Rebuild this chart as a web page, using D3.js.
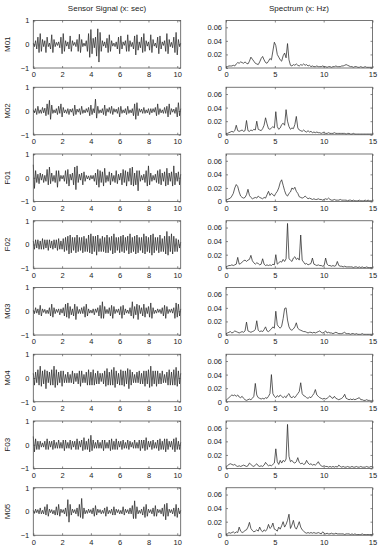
<!DOCTYPE html>
<html>
<head>
<meta charset="utf-8">
<script src="https://cdn.jsdelivr.net/npm/d3@7"></script>
<style>
  body { margin: 0; background: #fff; }
  text { font-family: "Liberation Sans", Arial, sans-serif; fill: #222; }
</style>
</head>
<body>
<script>
// subjects, top to bottom
var subjects = ["M01", "M02", "F01", "F02", "M03", "M04", "F03", "M05"];

// sensor signal, one sample every 0.08 s (0 .. 10.24 s)
var dt = 0.08;
var signals = [
  [0.05,-0.1,0.15,-0.2,0.3,-0.35,0.45,-0.3,0.2,-0.1,
   0.15,-0.35,0.3,-0.1,0.05,-0.2,0.4,-0.35,0.2,-0.1,
   0.08,-0.05,0.1,-0.15,0.3,-0.4,0.45,-0.3,0.15,-0.08,
   0.1,-0.2,0.35,-0.3,0.15,-0.05,0.08,-0.1,0.2,-0.3,
   0.42,-0.35,0.2,-0.1,0.05,-0.08,0.15,-0.3,0.45,-0.55,
   0.62,-0.4,0.25,-0.15,0.3,-0.5,0.65,-0.75,0.5,-0.3,
   0.15,-0.08,0.1,-0.15,0.25,-0.35,0.4,-0.3,0.15,-0.08,
   0.05,-0.1,0.1,-0.2,0.3,-0.4,0.35,-0.2,0.1,-0.05,
   0.15,-0.3,0.4,-0.3,0.15,-0.1,0.08,-0.2,0.35,-0.45,
   0.4,-0.25,0.1,-0.15,0.3,-0.35,0.45,-0.3,0.15,-0.08,
   0.1,-0.25,0.4,-0.35,0.2,-0.08,0.05,-0.15,0.3,-0.4,
   0.35,-0.2,0.1,-0.05,0.15,-0.3,0.45,-0.4,0.2,-0.1,
   0.08,-0.15,0.3,-0.35,0.5,-0.45,0.2,-0.1,0.05],
  [0.05,-0.08,0.1,-0.15,0.2,-0.1,0.05,-0.1,0.15,-0.08,
   0.12,-0.2,0.3,-0.15,0.45,-0.35,0.25,-0.1,0.05,-0.08,
   0.1,-0.15,0.2,-0.1,0.3,-0.25,0.15,-0.08,0.05,-0.1,
   0.1,-0.15,0.08,-0.05,0.1,-0.2,0.25,-0.15,0.08,-0.05,
   0.1,-0.15,0.2,-0.1,0.05,-0.08,0.1,-0.05,0.15,-0.2,
   0.25,-0.15,0.1,-0.08,0.5,-0.3,0.2,-0.1,0.05,-0.08,
   0.1,-0.15,0.25,-0.2,0.1,-0.05,0.15,-0.1,0.2,-0.15,
   0.1,-0.05,0.08,-0.1,0.15,-0.25,0.2,-0.1,0.05,-0.08,
   0.1,-0.15,0.2,-0.1,0.05,-0.08,0.1,-0.2,0.3,-0.35,
   0.35,-0.2,0.1,-0.05,0.08,-0.1,0.15,-0.1,0.05,-0.08,
   0.1,-0.15,0.1,-0.08,0.1,-0.05,0.15,-0.2,0.3,-0.15,
   0.1,-0.08,0.05,-0.1,0.15,-0.1,0.2,-0.25,0.3,-0.15,
   0.1,-0.05,0.08,-0.1,0.15,-0.25,0.35,-0.2,0.1],
  [0.55,-0.45,0.3,-0.2,0.15,-0.25,0.2,-0.1,0.15,-0.2,
   0.1,-0.15,0.35,-0.3,0.45,-0.25,0.2,-0.15,0.1,-0.2,
   0.3,-0.4,0.3,-0.15,0.1,-0.05,0.1,-0.15,0.3,-0.25,
   0.35,-0.35,0.15,-0.1,0.2,-0.3,0.45,-0.5,0.5,-0.2,
   0.15,-0.1,0.2,-0.3,0.25,-0.15,0.1,-0.05,0.08,-0.1,
   0.1,-0.05,0.1,-0.15,0.2,-0.3,0.35,-0.4,0.3,-0.2,
   0.25,-0.35,0.4,-0.2,0.1,-0.15,0.25,-0.3,0.2,-0.15,
   0.1,-0.2,0.3,-0.25,0.15,-0.1,0.2,-0.3,0.35,-0.2,
   0.3,-0.35,0.25,-0.15,0.4,-0.3,0.45,-0.35,0.2,-0.3,
   0.3,-0.55,0.3,-0.15,0.1,-0.1,0.15,-0.2,0.3,-0.35,
   0.5,-0.3,0.2,-0.15,0.1,-0.1,0.15,-0.2,0.3,-0.25,
   0.35,-0.3,0.2,-0.15,0.25,-0.35,0.4,-0.3,0.2,-0.15,
   0.25,-0.35,0.5,-0.3,0.2,-0.15,0.25,-0.3,0.15],
  [0.15,-0.2,0.2,-0.15,0.2,-0.2,0.15,-0.2,0.25,-0.2,
   0.2,-0.15,0.2,-0.25,0.2,-0.15,0.15,-0.2,0.2,-0.15,
   0.2,-0.25,0.25,-0.2,0.15,-0.2,0.25,-0.3,0.3,-0.25,
   0.35,-0.4,0.4,-0.35,0.3,-0.25,0.3,-0.35,0.4,-0.3,
   0.3,-0.25,0.3,-0.35,0.35,-0.3,0.25,-0.3,0.4,-0.35,
   0.45,-0.4,0.35,-0.3,0.35,-0.45,0.4,-0.3,0.25,-0.3,
   0.35,-0.3,0.3,-0.35,0.4,-0.35,0.3,-0.25,0.35,-0.4,
   0.45,-0.35,0.3,-0.25,0.3,-0.35,0.35,-0.3,0.4,-0.35,
   0.3,-0.25,0.35,-0.4,0.45,-0.35,0.3,-0.3,0.35,-0.4,
   0.4,-0.35,0.3,-0.25,0.3,-0.35,0.45,-0.4,0.35,-0.3,
   0.3,-0.35,0.4,-0.45,0.45,-0.35,0.3,-0.25,0.3,-0.35,
   0.4,-0.3,0.25,-0.3,0.35,-0.4,0.55,-0.45,0.35,-0.3,
   0.45,-0.4,0.35,-0.3,0.25,-0.3,0.2,-0.15,0.1],
  [0.05,-0.1,0.15,-0.08,0.1,-0.15,0.25,-0.2,0.1,-0.05,
   0.08,-0.1,0.05,-0.1,0.15,-0.2,0.3,-0.25,0.15,-0.1,
   0.08,-0.05,0.1,-0.15,0.1,-0.08,0.15,-0.2,0.3,-0.25,
   0.35,-0.3,0.2,-0.15,0.1,-0.2,0.3,-0.35,0.2,-0.1,
   0.08,-0.1,0.15,-0.1,0.2,-0.25,0.3,-0.2,0.1,-0.08,
   0.05,-0.08,0.1,-0.15,0.1,-0.05,0.15,-0.2,0.25,-0.3,
   0.4,-0.3,0.2,-0.1,0.08,-0.1,0.15,-0.2,0.25,-0.3,
   0.2,-0.1,0.08,-0.05,0.1,-0.15,0.2,-0.3,0.25,-0.15,
   0.1,-0.08,0.05,-0.1,0.15,-0.2,0.4,-0.3,0.2,-0.15,
   0.3,-0.35,0.25,-0.1,0.15,-0.2,0.3,-0.25,0.15,-0.1,
   0.2,-0.25,0.35,-0.3,0.15,-0.1,0.05,-0.08,0.1,-0.05,
   0.08,-0.1,0.15,-0.2,0.25,-0.3,0.2,-0.1,0.08,-0.05,
   0.1,-0.08,0.15,-0.3,0.35,-0.25,0.3,-0.2,0.1],
  [0.2,-0.3,0.25,-0.2,0.35,-0.3,0.5,-0.35,0.3,-0.25,
   0.35,-0.45,0.3,-0.2,0.25,-0.3,0.35,-0.3,0.5,-0.4,
   0.35,-0.3,0.25,-0.2,0.3,-0.35,0.3,-0.2,0.15,-0.2,
   0.25,-0.2,0.15,-0.2,0.3,-0.25,0.2,-0.15,0.2,-0.25,
   0.3,-0.35,0.3,-0.2,0.15,-0.2,0.25,-0.3,0.35,-0.3,
   0.25,-0.3,0.35,-0.3,0.2,-0.25,0.3,-0.25,0.2,-0.15,
   0.2,-0.25,0.3,-0.35,0.4,-0.3,0.25,-0.3,0.35,-0.3,
   0.45,-0.4,0.3,-0.25,0.2,-0.3,0.35,-0.3,0.3,-0.35,
   0.3,-0.25,0.4,-0.45,0.35,-0.3,0.25,-0.2,0.15,-0.2,
   0.25,-0.2,0.3,-0.25,0.2,-0.25,0.3,-0.35,0.3,-0.25,
   0.35,-0.4,0.5,-0.35,0.3,-0.25,0.3,-0.35,0.3,-0.25,
   0.2,-0.25,0.3,-0.2,0.15,-0.2,0.25,-0.3,0.35,-0.3,
   0.25,-0.3,0.35,-0.3,0.45,-0.35,0.3,-0.25,0.2],
  [0.35,-0.3,0.25,-0.2,0.15,-0.2,0.15,-0.1,0.08,-0.1,
   0.15,-0.2,0.25,-0.2,0.15,-0.1,0.15,-0.2,0.2,-0.15,
   0.1,-0.15,0.2,-0.15,0.1,-0.15,0.2,-0.25,0.2,-0.15,
   0.1,-0.15,0.2,-0.2,0.15,-0.1,0.15,-0.2,0.25,-0.2,
   0.15,-0.1,0.2,-0.25,0.3,-0.2,0.15,-0.2,0.25,-0.3,
   0.4,-0.25,0.2,-0.15,0.1,-0.15,0.2,-0.15,0.1,-0.15,
   0.2,-0.25,0.2,-0.15,0.1,-0.15,0.2,-0.25,0.25,-0.2,
   0.15,-0.2,0.25,-0.2,0.15,-0.1,0.15,-0.2,0.2,-0.15,
   0.1,-0.15,0.2,-0.2,0.15,-0.1,0.1,-0.15,0.2,-0.15,
   0.1,-0.15,0.2,-0.25,0.2,-0.15,0.2,-0.25,0.3,-0.2,
   0.15,-0.1,0.15,-0.2,0.2,-0.15,0.1,-0.15,0.2,-0.25,
   0.25,-0.2,0.15,-0.2,0.25,-0.3,0.25,-0.2,0.15,-0.1,
   0.15,-0.2,0.25,-0.3,0.3,-0.2,0.15,-0.2,0.1],
  [0.05,-0.08,0.1,-0.05,0.08,-0.1,0.15,-0.1,0.05,-0.1,
   0.2,-0.15,0.3,-0.2,0.1,-0.05,0.08,-0.1,0.05,-0.15,
   0.2,-0.15,0.3,-0.2,0.1,-0.05,0.08,-0.1,0.15,-0.2,
   0.5,-0.45,0.3,-0.15,0.1,-0.05,0.08,-0.1,0.15,-0.2,
   0.3,-0.25,0.55,-0.3,0.15,-0.1,0.05,-0.08,0.1,-0.05,
   0.08,-0.1,0.15,-0.2,0.25,-0.15,0.1,-0.05,0.08,-0.1,
   0.05,-0.08,0.15,-0.2,0.2,-0.1,0.05,-0.08,0.1,-0.15,
   0.2,-0.15,0.1,-0.05,0.08,-0.1,0.05,-0.1,0.2,-0.15,
   0.1,-0.05,0.08,-0.1,0.15,-0.1,0.25,-0.3,0.45,-0.3,
   0.2,-0.1,0.05,-0.08,0.1,-0.15,0.2,-0.25,0.3,-0.2,
   0.1,-0.05,0.08,-0.1,0.15,-0.2,0.25,-0.2,0.1,-0.05,
   0.08,-0.1,0.15,-0.2,0.3,-0.35,0.35,-0.2,0.1,-0.05,
   0.08,-0.1,0.15,-0.2,0.3,-0.25,0.15,-0.1,0.05]
];

// spectrum, one value every 0.15 Hz (0 .. 15 Hz)
var df = 0.15;
var spectra = [
  [.001,.002,.003,.003,.003,.004,.003,.006,.008,.007,
   .009,.008,.007,.009,.007,.006,.010,.016,.013,.010,
   .007,.006,.005,.009,.014,.017,.012,.008,.007,.010,
   .014,.012,.025,.038,.033,.020,.016,.012,.010,.018,
   .022,.015,.036,.012,.004,.003,.005,.004,.006,.004,
   .003,.005,.004,.006,.004,.005,.003,.004,.002,.003,
   .002,.002,.003,.002,.002,.002,.003,.002,.002,.001,
   .002,.002,.001,.002,.002,.003,.002,.002,.002,.003,
   .003,.004,.005,.004,.003,.002,.002,.001,.002,.002,
   .001,.001,.002,.001,.001,.002,.001,.001,.001,.001,.001],
  [.001,.002,.003,.004,.005,.004,.006,.014,.006,.005,
   .006,.007,.005,.006,.021,.006,.005,.007,.006,.008,
   .007,.020,.008,.007,.006,.009,.014,.025,.016,.009,
   .008,.010,.012,.010,.034,.012,.008,.010,.015,.017,
   .014,.037,.020,.012,.008,.010,.009,.015,.027,.010,
   .007,.006,.005,.007,.005,.004,.006,.004,.005,.003,
   .004,.003,.004,.003,.003,.002,.003,.004,.002,.002,
   .003,.002,.002,.002,.003,.002,.002,.002,.002,.002,
   .002,.002,.001,.002,.002,.001,.001,.002,.001,.001,
   .001,.001,.001,.001,.001,.001,.001,.001,.001,.001,.001],
  [.002,.003,.004,.005,.008,.012,.020,.025,.022,.014,
   .008,.006,.005,.006,.010,.018,.009,.006,.004,.005,
   .006,.005,.008,.006,.005,.004,.006,.005,.010,.015,
   .009,.012,.010,.008,.012,.015,.020,.028,.032,.024,
   .016,.010,.008,.012,.014,.020,.018,.021,.015,.012,
   .007,.006,.005,.006,.008,.006,.004,.005,.004,.003,
   .004,.003,.003,.004,.003,.003,.002,.003,.004,.003,
   .005,.003,.002,.002,.003,.002,.002,.002,.003,.002,
   .002,.002,.002,.001,.002,.002,.001,.002,.001,.001,
   .001,.002,.001,.001,.001,.002,.001,.002,.001,.001,.001],
  [.002,.003,.004,.004,.005,.004,.005,.006,.016,.006,
   .007,.009,.011,.012,.010,.012,.013,.019,.011,.008,
   .006,.008,.007,.005,.006,.014,.006,.004,.005,.004,
   .005,.004,.006,.005,.020,.006,.008,.010,.009,.013,
   .010,.014,.066,.014,.012,.010,.015,.017,.013,.015,
   .012,.049,.012,.009,.006,.007,.005,.006,.007,.015,
   .006,.005,.004,.005,.004,.004,.003,.004,.015,.006,
   .004,.004,.003,.004,.003,.004,.010,.004,.003,.003,
   .002,.003,.002,.002,.002,.002,.002,.001,.002,.002,
   .001,.002,.001,.002,.001,.001,.002,.001,.001,.001,.001],
  [.002,.003,.004,.005,.003,.004,.006,.005,.004,.003,
   .004,.005,.004,.006,.019,.006,.005,.004,.005,.006,
   .008,.021,.007,.005,.006,.005,.008,.012,.006,.005,
   .007,.009,.012,.010,.035,.015,.012,.010,.013,.024,
   .039,.040,.022,.012,.008,.007,.009,.012,.018,.010,
   .008,.007,.006,.005,.005,.004,.003,.004,.004,.003,
   .004,.003,.004,.005,.006,.004,.003,.004,.006,.003,
   .004,.003,.003,.002,.003,.004,.003,.002,.002,.002,
   .003,.004,.002,.002,.002,.001,.002,.002,.001,.002,
   .001,.001,.001,.002,.001,.001,.001,.001,.001,.001,.001],
  [.002,.004,.006,.008,.010,.009,.010,.008,.010,.007,
   .006,.008,.005,.003,.002,.003,.004,.003,.005,.008,
   .027,.010,.006,.005,.004,.005,.004,.006,.005,.008,
   .012,.040,.012,.008,.006,.009,.007,.010,.008,.006,
   .008,.006,.010,.012,.007,.006,.008,.006,.009,.012,
   .015,.028,.012,.009,.008,.006,.005,.007,.006,.009,
   .012,.018,.010,.008,.006,.005,.004,.005,.004,.005,
   .007,.009,.006,.005,.008,.005,.004,.003,.004,.005,
   .007,.011,.005,.004,.003,.004,.003,.004,.003,.004,
   .005,.006,.003,.003,.002,.002,.003,.002,.002,.001,.002],
  [.003,.004,.006,.007,.006,.005,.006,.004,.003,.004,
   .003,.004,.005,.004,.003,.004,.008,.006,.004,.003,
   .005,.007,.004,.003,.004,.003,.005,.009,.006,.004,
   .005,.004,.006,.008,.029,.010,.006,.012,.008,.012,
   .010,.014,.065,.018,.010,.012,.009,.008,.010,.016,
   .009,.007,.008,.006,.007,.012,.008,.006,.007,.005,
   .006,.005,.007,.010,.006,.004,.003,.004,.003,.003,
   .002,.003,.002,.003,.002,.003,.002,.005,.003,.002,
   .003,.002,.002,.003,.002,.002,.003,.002,.002,.003,
   .002,.002,.003,.002,.002,.002,.003,.002,.002,.003,.002],
  [.001,.002,.004,.003,.004,.005,.003,.005,.004,.012,
   .006,.004,.005,.007,.008,.012,.019,.010,.007,.005,
   .006,.008,.006,.012,.007,.005,.008,.006,.009,.016,
   .010,.012,.018,.009,.008,.006,.012,.009,.014,.020,
   .012,.016,.022,.031,.010,.015,.022,.012,.009,.014,
   .020,.012,.008,.006,.004,.003,.004,.003,.004,.003,
   .004,.003,.003,.004,.003,.002,.005,.003,.002,.003,
   .002,.002,.003,.002,.002,.003,.002,.002,.002,.002,
   .002,.001,.002,.002,.002,.001,.002,.001,.002,.001,
   .001,.001,.001,.002,.001,.001,.001,.001,.001,.001,.001]
];

var sigTicksX = [0, 2, 4, 6, 8, 10];
var sigTicksY = [-1, 0, 1];
var specTicksX = [0, 5, 10, 15];
var specTicksY = [0, 0.02, 0.04, 0.06];

var width = 382, height = 550;
var rowTop = 20.5, rowStep = 66.75, panelH = 47.5;

var svg = d3.select("body").append("svg")
    .attr("width", width)
    .attr("height", height);

var xSig = d3.scaleLinear().domain([0, 10.24]).range([33.3, 180.7]);
var xSpec = d3.scaleLinear().domain([0, 15]).range([226, 372.5]);

svg.append("text")
    .attr("x", 107).attr("y", 10.5)
    .attr("text-anchor", "middle")
    .style("font-size", "8px")
    .text("Sensor Signal (x: sec)");

svg.append("text")
    .attr("x", 299).attr("y", 10.5)
    .attr("text-anchor", "middle")
    .style("font-size", "8px")
    .text("Spectrum (x: Hz)");

function drawPanel(g, x, y, tx, ty, fmtY, values, step) {
  var x0 = x.range()[0], x1 = x.range()[1];
  var y0 = y.range()[0], y1 = y.range()[1];

  // inward ticks on all four sides, labels on left and bottom
  g.append("g")
    .attr("transform", "translate(0," + y0 + ")")
    .call(d3.axisBottom(x).tickValues(tx).tickSizeInner(-2).tickSizeOuter(0).tickPadding(4))
    .call(s => s.select(".domain").remove());
  g.append("g")
    .attr("transform", "translate(0," + y1 + ")")
    .call(d3.axisTop(x).tickValues(tx).tickSizeInner(-2).tickSizeOuter(0).tickFormat(""))
    .call(s => s.select(".domain").remove());
  g.append("g")
    .attr("transform", "translate(" + x0 + ",0)")
    .call(d3.axisLeft(y).tickValues(ty).tickSizeInner(-2).tickSizeOuter(0).tickPadding(4).tickFormat(fmtY))
    .call(s => s.select(".domain").remove());
  g.append("g")
    .attr("transform", "translate(" + x1 + ",0)")
    .call(d3.axisRight(y).tickValues(ty).tickSizeInner(-2).tickSizeOuter(0).tickFormat(""))
    .call(s => s.select(".domain").remove());

  g.selectAll(".tick line").attr("stroke", "#555").attr("stroke-width", 0.7);
  g.selectAll(".tick text")
    .style("font-family", "'Liberation Sans', Arial, sans-serif")
    .style("font-size", "7.5px")
    .attr("fill", "#222");

  var line = d3.line()
    .x((d, i) => x(i * step))
    .y(d => y(d));

  g.append("path")
    .datum(values)
    .attr("fill", "none")
    .attr("stroke", "#2a2a2a")
    .attr("stroke-width", 0.75)
    .attr("d", line);

  g.append("rect")
    .attr("x", x0).attr("y", y1)
    .attr("width", x1 - x0).attr("height", y0 - y1)
    .attr("fill", "none")
    .attr("stroke", "#555")
    .attr("stroke-width", 0.8);
}

subjects.forEach(function (name, i) {
  var top = rowTop + i * rowStep;
  var bottom = top + panelH;

  var ySig = d3.scaleLinear().domain([-1, 1]).range([bottom, top]);
  var ySpec = d3.scaleLinear().domain([0, 0.07]).range([bottom, top]);

  drawPanel(svg.append("g"), xSig, ySig, sigTicksX, sigTicksY, d3.format("d"), signals[i], dt);
  drawPanel(svg.append("g"), xSpec, ySpec, specTicksX, specTicksY,
    d => d === 0 ? "0" : d3.format(".2f")(d), spectra[i], df);

  svg.append("text")
    .attr("transform", "translate(9.5," + (top + panelH / 2) + ") rotate(-90)")
    .attr("text-anchor", "middle")
    .style("font-size", "8px")
    .text(name);
});
</script>
</body>
</html>
